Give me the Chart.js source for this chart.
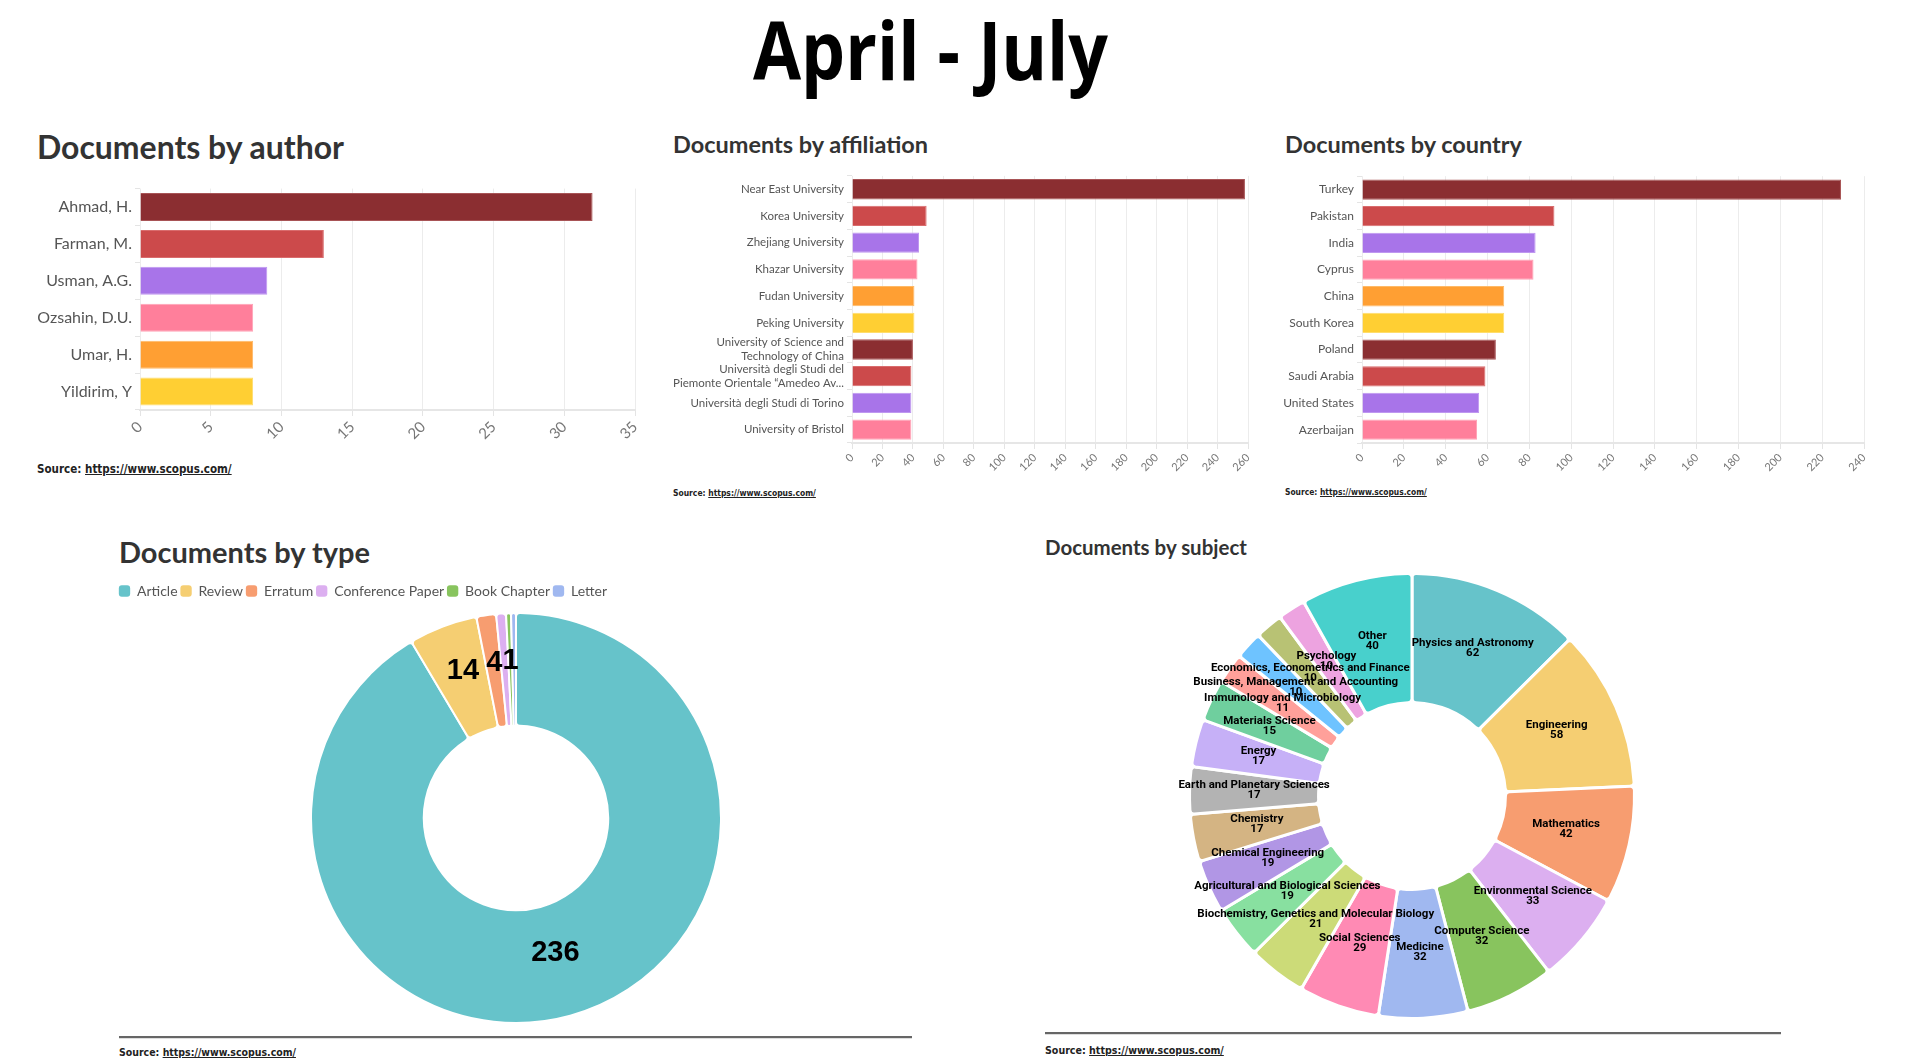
<!DOCTYPE html>
<html>
<head>
<meta charset="utf-8">
<script src="https://cdn.jsdelivr.net/npm/chart.js@4.4.1/dist/chart.umd.min.js"></script>
<style>
html,body{margin:0;padding:0;background:#fff;}
body{width:1917px;height:1058px;overflow:hidden;position:relative;}
.txt{position:absolute;white-space:nowrap;line-height:1;}
#mainTitle{font-family:'Open Sans',sans-serif;font-weight:700;font-size:81px;color:#000;transform-origin:left top;}
.ttl{font-family:'Lato',sans-serif;font-weight:700;font-size:30px;color:#333;}
.src{font-family:'Liberation Sans Narrow','DejaVu Sans Condensed','Roboto',sans-serif;font-weight:700;font-size:14px;color:#222;}
.src span{text-decoration:underline;}
canvas{position:absolute;}
.rule{position:absolute;height:2px;background:#666;border-bottom:1px solid #ddd;}
</style>
</head>
<body>
<div id="mainTitle" class="txt">April - July</div>

<div id="tAuthor" class="txt ttl">Documents by author</div>
<div id="tAff" class="txt ttl">Documents by affiliation</div>
<div id="tCountry" class="txt ttl">Documents by country</div>
<div id="tType" class="txt ttl">Documents by type</div>
<div id="tSubject" class="txt ttl">Documents by subject</div>

<div id="sAuthor" class="txt src">Source: <span>https://www.scopus.com/</span></div>
<div id="sAff" class="txt src">Source: <span>https://www.scopus.com/</span></div>
<div id="sCountry" class="txt src">Source: <span>https://www.scopus.com/</span></div>
<div id="sType" class="txt src">Source: <span>https://www.scopus.com/</span></div>
<div id="sSubject" class="txt src">Source: <span>https://www.scopus.com/</span></div>

<div class="rule" style="left:119px;top:1036px;width:793px;"></div>
<div class="rule" style="left:1045px;top:1032px;width:736px;"></div>

<canvas id="cAuthor" width="660" height="290" style="left:0px;top:176px;"></canvas>
<canvas id="cAff" width="610" height="320" style="left:660px;top:166px;"></canvas>
<canvas id="cCountry" width="637" height="320" style="left:1280px;top:166px;"></canvas>
<canvas id="cType" width="800" height="443" style="left:116px;top:581px;"></canvas>
<canvas id="cSubject" width="744" height="460" style="left:1040px;top:566px;"></canvas>

<script>
// ---------------- DATA ----------------
const authorLabels = ['Ahmad, H.', 'Farman, M.', 'Usman, A.G.', 'Ozsahin, D.U.', 'Umar, H.', 'Yildirim, Y'];
const authorValues = [32, 13, 9, 8, 8, 8];

const affiliationLabels = [
  'Near East University',
  'Korea University',
  'Zhejiang University',
  'Khazar University',
  'Fudan University',
  'Peking University',
  ['University of Science and', 'Technology of China'],
  ['Università degli Studi del', 'Piemonte Orientale “Amedeo Av...'],
  'Università degli Studi di Torino',
  'University of Bristol'
];
const affiliationValues = [258, 49, 44, 43, 41, 41, 40, 39, 39, 39];

const countryLabels = ['Turkey', 'Pakistan', 'India', 'Cyprus', 'China', 'South Korea', 'Poland', 'Saudi Arabia', 'United States', 'Azerbaijan'];
const countryValues = [229, 92, 83, 82, 68, 68, 64, 59, 56, 55];

const typeLabels = ['Article', 'Review', 'Erratum', 'Conference Paper', 'Book Chapter', 'Letter'];
const typeValues = [236, 14, 4, 2, 1, 1];

const subjectLabels = [
  'Physics and Astronomy', 'Engineering', 'Mathematics', 'Environmental Science',
  'Computer Science', 'Medicine', 'Social Sciences',
  'Biochemistry, Genetics and Molecular Biology', 'Agricultural and Biological Sciences',
  'Chemical Engineering', 'Chemistry', 'Earth and Planetary Sciences', 'Energy',
  'Materials Science', 'Immunology and Microbiology', 'Business, Management and Accounting',
  'Economics, Econometrics and Finance', 'Psychology', 'Other'
];
const subjectValues = [62, 58, 42, 33, 32, 32, 29, 21, 19, 19, 17, 17, 17, 15, 11, 10, 10, 10, 40];

const authorTicks = {max: 35, step: 5};
const affiliationTicks = {max: 260, step: 20};
const countryTicks = {max: 240, step: 20};

// ---------------- STYLES ----------------
const barColors  = ['#8B2E31', '#CC4A4B', '#A874E9', '#FF7F9B', '#FF9F33', '#FFCF33'];
const barBorders = ['#a85456', '#d96c6d', '#bf97f0', '#ffa3b6', '#ffb966', '#ffdd6b'];
const donutColors = ['#66C3CA', '#F5CE72', '#F79D70', '#DCAFF0', '#88C45E', '#A0B8F0', '#FF8AB4',
  '#CCDB78', '#88E0A0', '#B196E5', '#D4B483', '#B3B3B3', '#C6B0F7', '#6FCF9E', '#FFA09A',
  '#6EC3FF', '#B8C274', '#EDA3E0', '#48D0CC'];

// ---------------- TEXT PLACEMENT ----------------
function baselineOffset(el) {
  const m = document.createElement('span');
  m.style.cssText = 'display:inline-block;width:0;height:0;vertical-align:baseline;';
  el.appendChild(m);
  const off = m.getBoundingClientRect().top - el.getBoundingClientRect().top;
  el.removeChild(m);
  return off;
}
function place(id, left, baseline, width, scaleOnly) {
  const el = document.getElementById(id);
  el.style.left = left + 'px';
  el.style.top = '0px';
  const w = el.getBoundingClientRect().width;
  if (scaleOnly) {
    el.style.transform = 'scaleX(' + (width / w) + ')';
  } else {
    const fs = parseFloat(getComputedStyle(el).fontSize) * width / w;
    el.style.fontSize = fs + 'px';
  }
  const b = baselineOffset(el);
  el.style.top = (baseline - b) + 'px';
}
place('mainTitle', 753, 80, 355, true);
place('tAuthor', 37, 159, 307);
place('tAff', 673, 153, 255);
place('tCountry', 1285, 153, 237);
place('tType', 119, 563, 251);
place('tSubject', 1045, 555, 202);
place('sAuthor', 37, 473, 195);
place('sAff', 673, 496, 143);
place('sCountry', 1285, 495, 142);
place('sType', 119, 1056, 177);
place('sSubject', 1045, 1054, 179);

// ---------------- BAR CHARTS ----------------
function barChart(id, labels, values, ticks, o) {
  return new Chart(document.getElementById(id), {
    type: 'bar',
    data: {
      labels: labels,
      datasets: [{
        data: values,
        backgroundColor: values.map((v, i) => barColors[i % barColors.length]),
        borderColor: values.map((v, i) => barBorders[i % barBorders.length]),
        borderWidth: 1,
        barPercentage: 0.76,
        categoryPercentage: 1
      }]
    },
    options: {
      indexAxis: 'y',
      responsive: false,
      animation: false,
      devicePixelRatio: 1,
      layout: {padding: {top: o.padTop, right: o.padRight, left: 0, bottom: 0}},
      plugins: {legend: {display: false}, tooltip: {enabled: false}},
      scales: {
        x: {
          min: 0, max: ticks.max,
          ticks: {stepSize: ticks.step, minRotation: 45, maxRotation: 45,
                  font: {family: 'Lato', size: o.xFont}, color: '#777', padding: 2},
          grid: {color: '#ececec', tickLength: 6, tickColor: '#e4e4e4'},
          border: {color: '#e6e6e6', width: 2},
          afterFit(s) { s.height = o.xH; }
        },
        y: {
          ticks: {font: {family: 'Lato', size: o.yFont}, color: '#555', padding: 3, autoSkip: false},
          grid: {drawOnChartArea: false, tickLength: 5, color: '#e4e4e4'},
          border: {display: false},
          afterFit(s) { s.width = o.yW; }
        }
      }
    }
  });
}

barChart('cAuthor', authorLabels, authorValues, authorTicks,
  {padTop: 8, padRight: 25, xH: 56, yW: 140, xFont: 15, yFont: 16});
barChart('cAff', affiliationLabels, affiliationValues, affiliationTicks,
  {padTop: 8, padRight: 22, xH: 43, yW: 192, xFont: 11, yFont: 11.5});
barChart('cCountry', countryLabels, countryValues, countryTicks,
  {padTop: 8, padRight: 53, xH: 43, yW: 82, xFont: 11, yFont: 12});

// ---------------- DOUGHNUT LABELS ----------------
const arcLabels = {
  id: 'arcLabels',
  afterDatasetsDraw(chart, args, o) {
    const ctx = chart.ctx;
    const meta = chart.getDatasetMeta(0);
    const data = chart.data.datasets[0].data;
    const labels = chart.data.labels;
    const dy = o.dy || 0;
    ctx.save();
    ctx.textAlign = 'center';
    ctx.textBaseline = 'middle';
    ctx.fillStyle = '#000';
    ctx.font = o.font;
    const boxes = [];
    meta.data.forEach((arc, i) => {
      const p = arc.getCenterPoint();
      const y = p.y + dy;
      if (o.mode === 'value') {
        const t = String(data[i]);
        const w = ctx.measureText(t).width;
        const h = o.size * 0.72;
        const b = {x1: p.x - w / 2, x2: p.x + w / 2, y1: y - h / 2, y2: y + h / 2};
        if (boxes.some(q => b.x1 < q.x2 && b.x2 > q.x1 && b.y1 < q.y2 && b.y2 > q.y1)) return;
        boxes.push(b);
        ctx.fillText(t, p.x, y);
      } else {
        ctx.fillText(labels[i], p.x, y - o.lh / 2);
        ctx.fillText(String(data[i]), p.x, y + o.lh / 2);
      }
    });
    ctx.restore();
  }
};
const legendPad = {
  id: 'legendPad',
  beforeInit(chart) {
    if (!chart.legend) return;
    const fit = chart.legend.fit;
    chart.legend.fit = function () { fit.call(this); this.height += 4; };
  }
};

new Chart(document.getElementById('cType'), {
  type: 'doughnut',
  data: {
    labels: typeLabels,
    datasets: [{
      data: typeValues,
      backgroundColor: donutColors.slice(0, typeValues.length),
      borderColor: '#fff', borderWidth: 2, borderRadius: 4
    }]
  },
  options: {
    responsive: false, animation: false, devicePixelRatio: 1,
    cutout: '45%',
    layout: {padding: 0},
    plugins: {
      tooltip: {enabled: false},
      legend: {
        position: 'top', align: 'start',
        labels: {usePointStyle: true, pointStyle: 'rectRounded', boxWidth: 11, boxHeight: 11,
                 padding: 3, font: {family: 'Lato', size: 14}, color: '#555'}
      },
      arcLabels: {mode: 'value', font: 'bold 29px "Liberation Sans", Arial, sans-serif', size: 29, dy: -8}
    }
  },
  plugins: [legendPad, arcLabels]
});

new Chart(document.getElementById('cSubject'), {
  type: 'doughnut',
  data: {
    labels: subjectLabels,
    datasets: [{
      data: subjectValues,
      backgroundColor: donutColors.slice(0, subjectValues.length),
      borderColor: '#fff', borderWidth: 3, borderRadius: 4
    }]
  },
  options: {
    responsive: false, animation: false, devicePixelRatio: 1,
    cutout: '42%',
    layout: {padding: 6},
    plugins: {
      tooltip: {enabled: false},
      legend: {display: false},
      arcLabels: {mode: 'both', font: 'bold 11.5px Roboto, "Open Sans", sans-serif', lh: 10, dy: -2}
    }
  },
  plugins: [arcLabels]
});
</script>
</body>
</html>
